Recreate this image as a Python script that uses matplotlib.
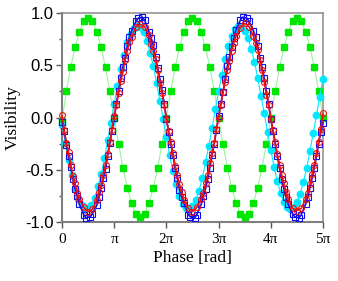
import numpy as np
import matplotlib
matplotlib.use("Agg")
import matplotlib.pyplot as plt

# phase positions are given in steps of pi/12, pi/16 or pi/24
green_steps = list(range(0, 61))
green_vis = [-0.03, 0.25, 0.48, 0.67, 0.82, 0.92, 0.95, 0.92, 0.82, 0.67, 0.48, 0.25,
             0.0, -0.25, -0.48, -0.67, -0.82, -0.92, -0.95, -0.92, -0.82, -0.67, -0.48, -0.25,
             0.0, 0.25, 0.48, 0.67, 0.82, 0.92, 0.95, 0.92, 0.82, 0.67, 0.48, 0.25,
             0.0, -0.25, -0.48, -0.67, -0.82, -0.92, -0.95, -0.92, -0.82, -0.67, -0.48, -0.25,
             0.0, 0.25, 0.48, 0.67, 0.82, 0.92, 0.95, 0.92, 0.82, 0.67, 0.48, 0.25,
             0.0]

cyan_steps = list(range(0, 81))
cyan_vis = [-0.07, -0.24, -0.41, -0.55, -0.68, -0.78, -0.84, -0.88, -0.87, -0.84,
            -0.77, -0.66, -0.54, -0.39, -0.22, -0.05, 0.13, 0.30, 0.46, 0.60,
            0.72, 0.80, 0.86, 0.88, 0.87, 0.82, 0.73, 0.62, 0.49, 0.33,
            0.16, -0.01, -0.19, -0.36, -0.51, -0.64, -0.75, -0.83, -0.87, -0.88,
            -0.85, -0.79, -0.70, -0.58, -0.43, -0.27, -0.10, 0.08, 0.25, 0.41,
            0.56, 0.68, 0.78, 0.85, 0.88, 0.87, 0.83, 0.76, 0.66, 0.53,
            0.38, 0.21, 0.04, -0.14, -0.31, -0.47, -0.61, -0.72, -0.81, -0.86,
            -0.88, -0.86, -0.81, -0.73, -0.62, -0.48, -0.32, -0.15, 0.02, 0.20,
            0.37]

red_steps = [0, 1, 2, 3, 4, 5, 6, 7, 8, 10, 12, 14, 16, 17, 18, 19, 20, 21, 22, 23,
             24, 25, 26, 27, 28, 29, 30, 31, 32, 34, 36, 38, 40, 41, 42, 43, 44, 45, 46, 47,
             48, 49, 50, 51, 52, 53, 54, 55, 56, 58, 60, 62, 64, 65, 66, 67, 68, 69, 70, 71,
             72, 73, 74, 75, 76, 77, 78, 79, 80, 82, 84, 86, 88, 89, 90, 91, 92, 93, 94, 95,
             96, 97, 98, 99, 100, 101, 102, 103, 104, 106, 108, 110, 112, 113, 114, 115, 116, 117, 118, 119,
             120]
red_vis = [0.02, -0.12, -0.24, -0.33, -0.45, -0.56, -0.63, -0.72, -0.78, -0.86, -0.90, -0.88, -0.79, -0.71, -0.65, -0.55, -0.45, -0.35, -0.23, -0.12,
           0.01, 0.12, 0.23, 0.35, 0.44, 0.55, 0.64, 0.72, 0.77, 0.87, 0.89, 0.87, 0.79, 0.70, 0.64, 0.56, 0.45, 0.33, 0.23, 0.12,
           -0.01, -0.13, -0.23, -0.34, -0.46, -0.55, -0.64, -0.71, -0.79, -0.87, -0.90, -0.86, -0.78, -0.72, -0.63, -0.55, -0.44, -0.34, -0.24, -0.11,
           0.00, 0.12, 0.24, 0.34, 0.45, 0.54, 0.64, 0.71, 0.78, 0.86, 0.90, 0.87, 0.78, 0.71, 0.65, 0.55, 0.45, 0.34, 0.22, 0.12,
           -0.01, -0.12, -0.23, -0.35, -0.45, -0.55, -0.63, -0.71, -0.78, -0.87, -0.89, -0.87, -0.78, -0.72, -0.64, -0.54, -0.45, -0.34, -0.23, -0.11,
           0.04]

blue_steps = [0, 1, 2, 3, 4, 5, 6, 7, 8, 10, 11, 13, 14, 16, 17, 18, 19, 20, 21, 22, 23,
              24, 25, 26, 27, 28, 29, 30, 31, 32, 34, 35, 37, 38, 40, 41, 42, 43, 44, 45, 46, 47,
              48, 49, 50, 51, 52, 53, 54, 55, 56, 58, 59, 61, 62, 64, 65, 66, 67, 68, 69, 70, 71,
              72, 73, 74, 75, 76, 77, 78, 79, 80, 82, 83, 85, 86, 88, 89, 90, 91, 92, 93, 94, 95,
              96, 97, 98, 99, 100, 101, 102, 103, 104, 106, 107, 109, 110, 112, 113, 114, 115, 116, 117, 118, 119,
              120]
blue_vis = [-0.04, -0.13, -0.26, -0.37, -0.47, -0.59, -0.68, -0.75, -0.83, -0.93, -0.96, -0.95, -0.92, -0.84, -0.76, -0.67, -0.58, -0.49, -0.37, -0.24, -0.13,
            0.00, 0.13, 0.25, 0.38, 0.48, 0.57, 0.68, 0.77, 0.83, 0.92, 0.95, 0.96, 0.93, 0.82, 0.76, 0.69, 0.58, 0.47, 0.37, 0.26, 0.13,
            -0.01, -0.14, -0.25, -0.36, -0.48, -0.58, -0.69, -0.76, -0.82, -0.93, -0.95, -0.96, -0.93, -0.83, -0.75, -0.68, -0.59, -0.48, -0.36, -0.25, -0.12,
            0.01, 0.13, 0.24, 0.37, 0.49, 0.58, 0.67, 0.76, 0.84, 0.93, 0.96, 0.95, 0.92, 0.83, 0.77, 0.68, 0.57, 0.48, 0.38, 0.25, 0.13,
            -0.01, -0.13, -0.25, -0.37, -0.48, -0.59, -0.68, -0.76, -0.83, -0.92, -0.95, -0.96, -0.93, -0.83, -0.76, -0.67, -0.58, -0.48, -0.37, -0.25, -0.14,
            -0.05]

xtick_labels = ["0", "π", "2π", "3π", "4π", "5π"]
ytick_labels = ["-1.0", "-0.5", "0.0", "0.5", "1.0"]

serif = "Liberation Serif"
sans = "Liberation Sans"

fig = plt.figure(figsize=(3.38, 2.81), dpi=100)
ax = fig.add_axes([62 / 338, 1 - 222 / 281, (323 - 62) / 338, (222 - 13) / 281])

green_x = np.array(green_steps) * np.pi / 12
cyan_x = np.array(cyan_steps) * np.pi / 16
red_x = np.array(red_steps) * np.pi / 24
blue_x = np.array(blue_steps) * np.pi / 24

ax.plot(green_x, green_vis, color="#99f599", lw=0.8, marker="s", ms=4.0,
        mfc="#00e600", mec="#00e600", clip_on=False, zorder=3)
ax.plot(cyan_x, cyan_vis, color="#00e8ff", lw=0.8, marker="o", ms=4.6,
        mfc="#00e8ff", mec="#00e8ff", clip_on=False, zorder=4)
ax.plot(blue_x, blue_vis, color="#1010ee", lw=1.2, marker="s", ms=3.8,
        mfc="none", mec="#1010ee", mew=0.8, clip_on=False, zorder=5)
ax.plot(red_x, red_vis, color="#ee1010", lw=1.2, marker="o", ms=4.2,
        mfc="none", mec="#ee1010", mew=0.8, clip_on=False, zorder=6)

ax.set_xlim(0, 5 * np.pi)
ax.set_ylim(-1, 1)
ax.set_xticks(np.arange(6) * np.pi)
ax.set_xticklabels(xtick_labels, fontfamily=serif, fontsize=11)
ax.set_yticks([-1, -0.5, 0, 0.5, 1])
ax.set_yticklabels(ytick_labels, fontfamily=sans, fontsize=12)
ax.set_yticks(np.arange(-1, 1.01, 0.25), minor=True)

for side in ["left", "bottom"]:
    ax.spines[side].set_color("#7f7f7f")
    ax.spines[side].set_linewidth(1.5)
for side in ["top", "right"]:
    ax.spines[side].set_color("#8a8a8a")
    ax.spines[side].set_linewidth(1.1)

ax.tick_params(which="major", direction="out", length=4, width=1, color="#555555", pad=2)
ax.tick_params(which="minor", direction="out", length=2.5, width=1, color="#555555")
ax.tick_params(axis="x", pad=4)

ax.set_xlabel("Phase [rad]", fontfamily=serif, fontsize=12.5, labelpad=3)
ax.set_ylabel("Visibility", fontfamily=serif, fontsize=12.5, labelpad=3)

fig.savefig("out.png", dpi=100)
